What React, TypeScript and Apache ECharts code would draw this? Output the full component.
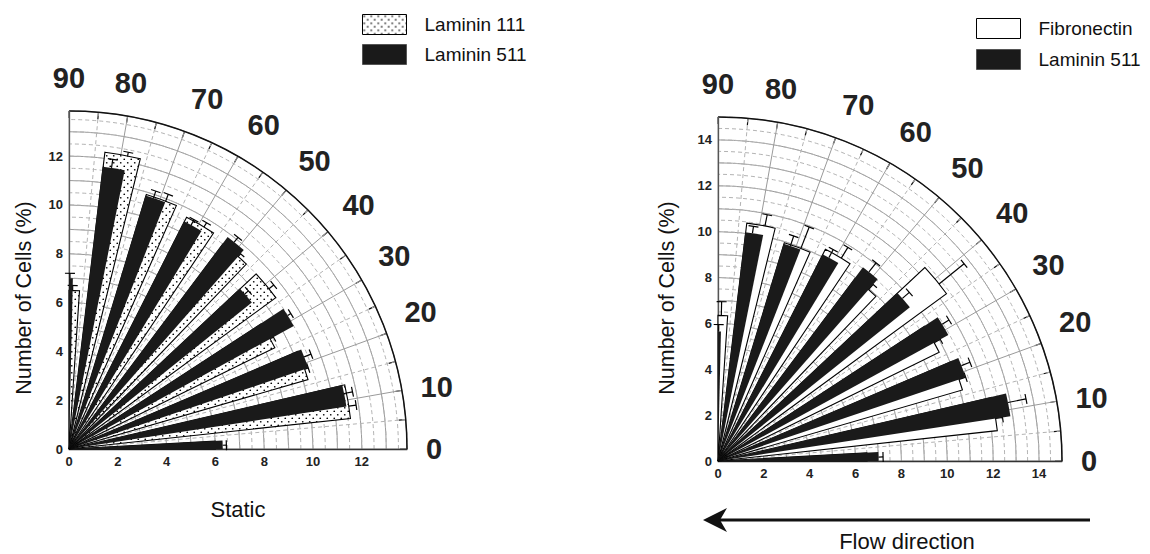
import React, { useEffect, useRef } from 'react';
import * as echarts from 'echarts';

// ---------------- data ----------------
const ANGLES = [0, 10, 20, 30, 40, 50, 60, 70, 80, 90];

// Static: Laminin 111 (dotted) and Laminin 511 (black), % of cells per angle bin
const STATIC_LAM111 = [6.0, 11.6, 10.2, 9.4, 10.5, 10.5, 10.65, 10.9, 12.25, 6.5];
const STATIC_LAM111_ERR = [0, 0.3, 0.15, 0.15, 0.25, 0.15, 0.2, 0.3, 0.15, 0.2];
const STATIC_LAM511 = [6.3, 11.5, 10.35, 10.5, 9.6, 10.85, 10.45, 10.85, 11.65, 7.0];
const STATIC_LAM511_ERR = [0.15, 0.35, 0.3, 0.15, 0.2, 0.25, 0.25, 0.3, 0.35, 0.2];

// Flow: Fibronectin (white) and Laminin 511 (black)
const FLOW_FN = [6.5, 12.25, 11.1, 10.75, 12.35, 9.95, 10.35, 9.95, 10.45, 6.35];
const FLOW_FN_ERR = [0, 0.3, 0.3, 0.3, 1.4, 0.3, 0.55, 1.0, 0.5, 0.6];
const FLOW_LAM511 = [7.0, 12.9, 11.4, 11.45, 10.72, 10.55, 10.1, 9.9, 10.05, 5.65];
const FLOW_LAM511_ERR = [0.2, 0.8, 0.4, 0.35, 0.4, 0.5, 0.4, 0.45, 0.3, 0.3];

const STATIC_MAX = 13.85;
const FLOW_MAX = 15;

// ---------------- styling / layout ----------------
const FONT = '"Liberation Sans", Arial, Helvetica, sans-serif';
const LEFT = { cx: 69, cy: 449, r: 338 };
const RIGHT = { cx: 718, cy: 461, r: 344 };

const dotSvg =
  '<svg xmlns="http://www.w3.org/2000/svg" width="7" height="7">' +
  '<rect width="7" height="7" fill="#ffffff"/>' +
  '<circle cx="1.75" cy="1.75" r="0.85" fill="#000"/>' +
  '<circle cx="5.25" cy="5.25" r="0.85" fill="#000"/></svg>';
const DOT_PATTERN: any = {
  image: 'data:image/svg+xml;utf8,' + encodeURIComponent(dotSvg),
  repeat: 'repeat',
  imageWidth: 7,
  imageHeight: 7,
};

// angular placement of the two bars inside each 10-degree group
const BACK_BAR = { lo: -3.8, hi: 3.1, errAt: -1.3 };
const FRONT_BAR = { lo: -1.3, hi: 3.2, errAt: 1.4 };
const CAP = 5;

const GRID_SOLID = '#9a9a9a';
const GRID_DASH = '#b3b3b3';

function barSeries(
  name: string,
  values: number[],
  errs: number[],
  polarIndex: number,
  geom: { lo: number; hi: number; errAt: number },
  fill: any,
  stroke: string | null,
  z: number
) {
  return {
    type: 'custom',
    name,
    coordinateSystem: 'polar',
    polarIndex,
    z,
    itemStyle: { color: fill, borderColor: '#000', borderWidth: stroke ? 1 : 0 },
    encode: { radius: 0, angle: 1 },
    data: ANGLES.map((a, i) => [values[i], a, errs[i]]),
    renderItem: (params: any, api: any) => {
      const v = api.value(0);
      const a = api.value(1);
      const e = api.value(2);
      const lo = Math.max(0, a + geom.lo);
      const hi = Math.min(90, a + geom.hi);
      const pLo = api.coord([v, lo]);
      const pHi = api.coord([v, hi]);
      const cx = params.coordSys.cx;
      const cy = params.coordSys.cy;
      const children: any[] = [
        {
          type: 'sector',
          shape: {
            cx,
            cy,
            r0: 0,
            r: pLo[2],
            startAngle: -pHi[3],
            endAngle: -pLo[3],
            clockwise: true,
          },
          style: stroke
            ? { fill, stroke, lineWidth: 1.1 }
            : { fill, stroke: null, lineWidth: 0 },
        },
      ];
      if (e > 0) {
        const ae = Math.max(0.3, Math.min(89.7, a + geom.errAt));
        const b0 = api.coord([v, ae]);
        const b1 = api.coord([v + e, ae]);
        const t = b1[3];
        const tx = Math.sin(t) * CAP;
        const ty = Math.cos(t) * CAP;
        children.push({
          type: 'line',
          shape: { x1: b0[0], y1: b0[1], x2: b1[0], y2: b1[1] },
          style: { stroke: '#000', lineWidth: 1.2 },
        });
        children.push({
          type: 'line',
          shape: { x1: b1[0] - tx, y1: b1[1] - ty, x2: b1[0] + tx, y2: b1[1] + ty },
          style: { stroke: '#000', lineWidth: 1.2 },
        });
      }
      return { type: 'group', children };
    },
  };
}

// main angle axis (arc, ticks, labels, radial grid)
function angleAxis(polarIndex: number) {
  return {
    polarIndex,
    type: 'value',
    min: 0,
    max: 90,
    interval: 10,
    startAngle: 0,
    endAngle: 90,
    clockwise: false,
    axisLine: { show: true, lineStyle: { color: '#111', width: 1.5 } },
    axisTick: { show: true, inside: true, length: 7, lineStyle: { color: '#111', width: 1.2 } },
    minorTick: { show: true, splitNumber: 2, length: 7, lineStyle: { color: '#111', width: 1.2 } },
    axisLabel: {
      show: true,
      margin: 19,
      fontSize: 29,
      fontWeight: 'bold',
      color: '#222',
      fontFamily: FONT,
    },
    splitLine: { show: true, lineStyle: { color: GRID_SOLID, width: 1 } },
    minorSplitLine: { show: true, lineStyle: { color: GRID_DASH, width: 1, type: [4, 3] } },
  };
}

// hidden angle axis for the helper polar that only carries dashed half-step arcs
function hiddenAngleAxis(polarIndex: number) {
  return {
    polarIndex,
    type: 'value',
    min: 0,
    max: 90,
    startAngle: 0,
    endAngle: 90,
    clockwise: false,
    axisLine: { show: false },
    axisTick: { show: false },
    axisLabel: { show: false },
    splitLine: { show: false },
  };
}

function radiusAxis(polarIndex: number, max: number, step: number, dashed: boolean) {
  return {
    polarIndex,
    type: 'value',
    min: 0,
    max,
    interval: step,
    axisLine: { show: false },
    axisTick: { show: false },
    axisLabel: { show: false },
    splitLine: {
      show: true,
      lineStyle: dashed
        ? { color: GRID_DASH, width: 1, type: [4, 3] }
        : { color: GRID_SOLID, width: 1 },
    },
  };
}

const tickLabel = {
  fontSize: 13,
  fontWeight: 'bold',
  color: '#222',
  fontFamily: FONT,
  showMaxLabel: false,
};

function cartAxes(gridIndex: number, max: number, xName: string) {
  const x: any = {
    gridIndex,
    type: 'value',
    min: 0,
    max,
    interval: 2,
    axisLine: { show: true, lineStyle: { color: '#333', width: 1.3 } },
    axisTick: { show: false },
    splitLine: { show: false },
    axisLabel: { ...tickLabel, margin: 6 },
  };
  if (xName) {
    x.name = xName;
    x.nameLocation = 'middle';
    x.nameGap = 49;
    x.nameTextStyle = { fontSize: 22, color: '#111', fontFamily: FONT };
  }
  const y: any = {
    gridIndex,
    type: 'value',
    min: 0,
    max,
    interval: 2,
    axisLine: { show: true, lineStyle: { color: '#555', width: 1.3 } },
    axisTick: { show: false },
    splitLine: { show: false },
    axisLabel: { ...tickLabel, margin: 6 },
  };
  return { x, y };
}

const TITLE_STYLE = {
  text: 'Number of Cells (%)',
  fontSize: 21.5,
  fontFamily: FONT,
  fill: '#111',
  align: 'center',
  verticalAlign: 'middle',
};

export default function App() {
  const ref = useRef<HTMLDivElement>(null);

  useEffect(() => {
    if (!ref.current) return;
    const chart = echarts.init(ref.current, null, { renderer: 'svg' });
    const a0 = cartAxes(0, STATIC_MAX, 'Static');
    const a1 = cartAxes(1, FLOW_MAX, '');

    const legendText = { fontSize: 19, color: '#111', fontFamily: FONT, padding: [0, 0, 0, 13] };

    const option: any = {
      animation: false,
      backgroundColor: '#ffffff',
      textStyle: { fontFamily: FONT },
      polar: [
        { center: [LEFT.cx, LEFT.cy], radius: LEFT.r },
        { center: [RIGHT.cx, RIGHT.cy], radius: RIGHT.r },
        { center: [LEFT.cx, LEFT.cy], radius: LEFT.r },
        { center: [RIGHT.cx, RIGHT.cy], radius: RIGHT.r },
      ],
      angleAxis: [angleAxis(0), angleAxis(1), hiddenAngleAxis(2), hiddenAngleAxis(3)],
      radiusAxis: [
        radiusAxis(0, STATIC_MAX, 1, false),
        radiusAxis(1, FLOW_MAX, 1, false),
        radiusAxis(2, STATIC_MAX, 0.5, true),
        radiusAxis(3, FLOW_MAX, 0.5, true),
      ],
      grid: [
        { left: LEFT.cx, top: LEFT.cy - LEFT.r, width: LEFT.r, height: LEFT.r },
        { left: RIGHT.cx, top: RIGHT.cy - RIGHT.r, width: RIGHT.r, height: RIGHT.r },
      ],
      xAxis: [a0.x, a1.x],
      yAxis: [a0.y, a1.y],
      legend: [
        {
          left: 362,
          top: 14,
          padding: 0,
          orient: 'vertical',
          icon: 'rect',
          itemWidth: 44,
          itemHeight: 20,
          itemGap: 9,
          selectedMode: false,
          textStyle: legendText,
          data: [
            { name: 'Laminin 111', itemStyle: { color: DOT_PATTERN, borderColor: '#000', borderWidth: 1 } },
            { name: 'Laminin 511', itemStyle: { color: '#1a1a1a', borderColor: '#555', borderWidth: 1 } },
          ],
        },
        {
          left: 976,
          top: 18,
          padding: 0,
          orient: 'vertical',
          icon: 'rect',
          itemWidth: 44,
          itemHeight: 20,
          itemGap: 10,
          selectedMode: false,
          textStyle: legendText,
          data: [
            { name: 'Fibronectin', itemStyle: { color: '#ffffff', borderColor: '#000', borderWidth: 1 } },
            { name: 'Laminin 511 ', itemStyle: { color: '#1a1a1a', borderColor: '#555', borderWidth: 1 } },
          ],
        },
      ],
      series: [
        barSeries('Laminin 111', STATIC_LAM111, STATIC_LAM111_ERR, 0, BACK_BAR, DOT_PATTERN, '#000', 3),
        barSeries('Laminin 511', STATIC_LAM511, STATIC_LAM511_ERR, 0, FRONT_BAR, '#1a1a1a', null, 4),
        barSeries('Fibronectin', FLOW_FN, FLOW_FN_ERR, 1, BACK_BAR, '#ffffff', '#000', 3),
        barSeries('Laminin 511 ', FLOW_LAM511, FLOW_LAM511_ERR, 1, FRONT_BAR, '#1a1a1a', null, 4),
      ],
      graphic: [
        { type: 'text', x: 24, y: 298, rotation: Math.PI / 2, style: { ...TITLE_STYLE } },
        { type: 'text', x: 667, y: 298, rotation: Math.PI / 2, style: { ...TITLE_STYLE } },
        {
          type: 'line',
          shape: { x1: 718, y1: 520, x2: 1090, y2: 520 },
          style: { stroke: '#111', lineWidth: 3 },
        },
        {
          type: 'polygon',
          shape: { points: [[703, 520], [727, 508], [720, 520], [727, 532]] },
          style: { fill: '#111' },
        },
        {
          type: 'text',
          x: 907,
          y: 541,
          style: {
            text: 'Flow direction',
            fontSize: 22,
            fontFamily: FONT,
            fill: '#111',
            align: 'center',
            verticalAlign: 'middle',
          },
        },
      ],
    };

    chart.setOption(option);
    return () => chart.dispose();
  }, []);

  return (
    <div
      ref={ref}
      style={{ position: 'absolute', left: 0, top: 0, width: 1150, height: 554, background: '#fff' }}
    />
  );
}
